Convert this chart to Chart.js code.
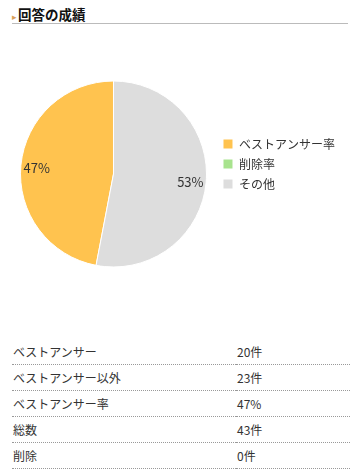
<!DOCTYPE html>
<html lang="ja">
<head>
<meta charset="UTF-8">
<title>回答の成績</title>
<style>
  body {
    margin: 0;
    background: #fff;
    font-family: "Noto Sans CJK JP", "Noto Sans", sans-serif;
    color: #333;
    width: 357px;
    height: 475px;
    position: relative;
    overflow: hidden;
  }
  .title {
    position: absolute;
    left: 12px;
    top: 4px;
    width: 336px;
    height: 19px;
    border-bottom: 1px solid #bbb;
    font-size: 13.5px;
    font-weight: bold;
    color: #111;
    line-height: 20px;
  }
  .title .mark {
    color: #d9a05a;
    font-size: 9px;
    font-weight: normal;
    margin-right: 1px;
  }
  #chartBox {
    position: absolute;
    left: 0;
    top: 60px;
    width: 357px;
    height: 228px;
  }
  table {
    position: absolute;
    left: 12px;
    top: 339px;
    width: 338px;
    border-collapse: collapse;
    font-size: 12px;
  }
  td {
    height: 25px;
    padding: 0 1px;
    border-bottom: 1px dotted #999;
    vertical-align: middle;
  }
  td.val { width: 112px; }
</style>
</head>
<body>
<div class="title"><span class="mark">&#9656;</span>回答の成績</div>
<div id="chartBox"><canvas id="pie"></canvas></div>
<table id="stats"><tbody id="statsBody"></tbody></table>

<script src="https://cdn.jsdelivr.net/npm/chart.js"></script>
<script>
  // pie data
  var labels = ['ベストアンサー率', '削除率', 'その他'];
  var values = [47, 0, 53];
  var colors = ['#FFC34F', '#A8E38E', '#DDDDDD'];

  // summary table
  var rowLabels = ['ベストアンサー', 'ベストアンサー以外', 'ベストアンサー率', '総数', '削除'];
  var rowValues = ['20件', '23件', '47%', '43件', '0件'];

  var body = document.getElementById('statsBody');
  for (var i = 0; i < rowLabels.length; i++) {
    body.innerHTML += '<tr><td>' + rowLabels[i] + '</td><td class="val">' + rowValues[i] + '</td></tr>';
  }

  // percent labels inside slices
  var sliceLabels = {
    id: 'sliceLabels',
    afterDatasetsDraw: function (chart) {
      var ctx = chart.ctx;
      var meta = chart.getDatasetMeta(0);
      ctx.save();
      ctx.font = '13px "Noto Sans CJK JP", sans-serif';
      ctx.fillStyle = '#333';
      ctx.textAlign = 'center';
      ctx.textBaseline = 'middle';
      meta.data.forEach(function (arc, idx) {
        if (!values[idx]) return;
        var p = arc.getProps(['x', 'y', 'startAngle', 'endAngle', 'outerRadius']);
        var mid = (p.startAngle + p.endAngle) / 2;
        var r = p.outerRadius * 0.83;
        ctx.fillText(values[idx] + '%', p.x + Math.cos(mid) * r, p.y + Math.sin(mid) * r + 1);
      });
      ctx.restore();
    }
  };

  // legend sits a bit higher and further right than chart.js would put it
  var legendNudge = {
    id: 'legendNudge',
    afterLayout: function (chart) {
      var lg = chart.legend;
      lg.left += 8; lg.right += 8;
      lg.top -= 10; lg.bottom -= 10;
    }
  };

  new Chart(document.getElementById('pie'), {
    type: 'pie',
    data: {
      labels: labels,
      datasets: [{
        data: values,
        backgroundColor: colors,
        borderColor: '#fff',
        borderWidth: 1
      }]
    },
    options: {
      responsive: true,
      maintainAspectRatio: false,
      animation: false,
      rotation: 190.8,
      layout: { padding: { left: 20, top: 20, bottom: 20, right: 20 } },
      plugins: {
        tooltip: { enabled: false },
        legend: {
          position: 'right',
          labels: {
            boxWidth: 10,
            boxHeight: 10,
            padding: 8,
            color: '#333',
            font: { size: 12, family: '"Noto Sans CJK JP", sans-serif' }
          }
        }
      }
    },
    plugins: [sliceLabels, legendNudge]
  });
</script>
</body>
</html>
